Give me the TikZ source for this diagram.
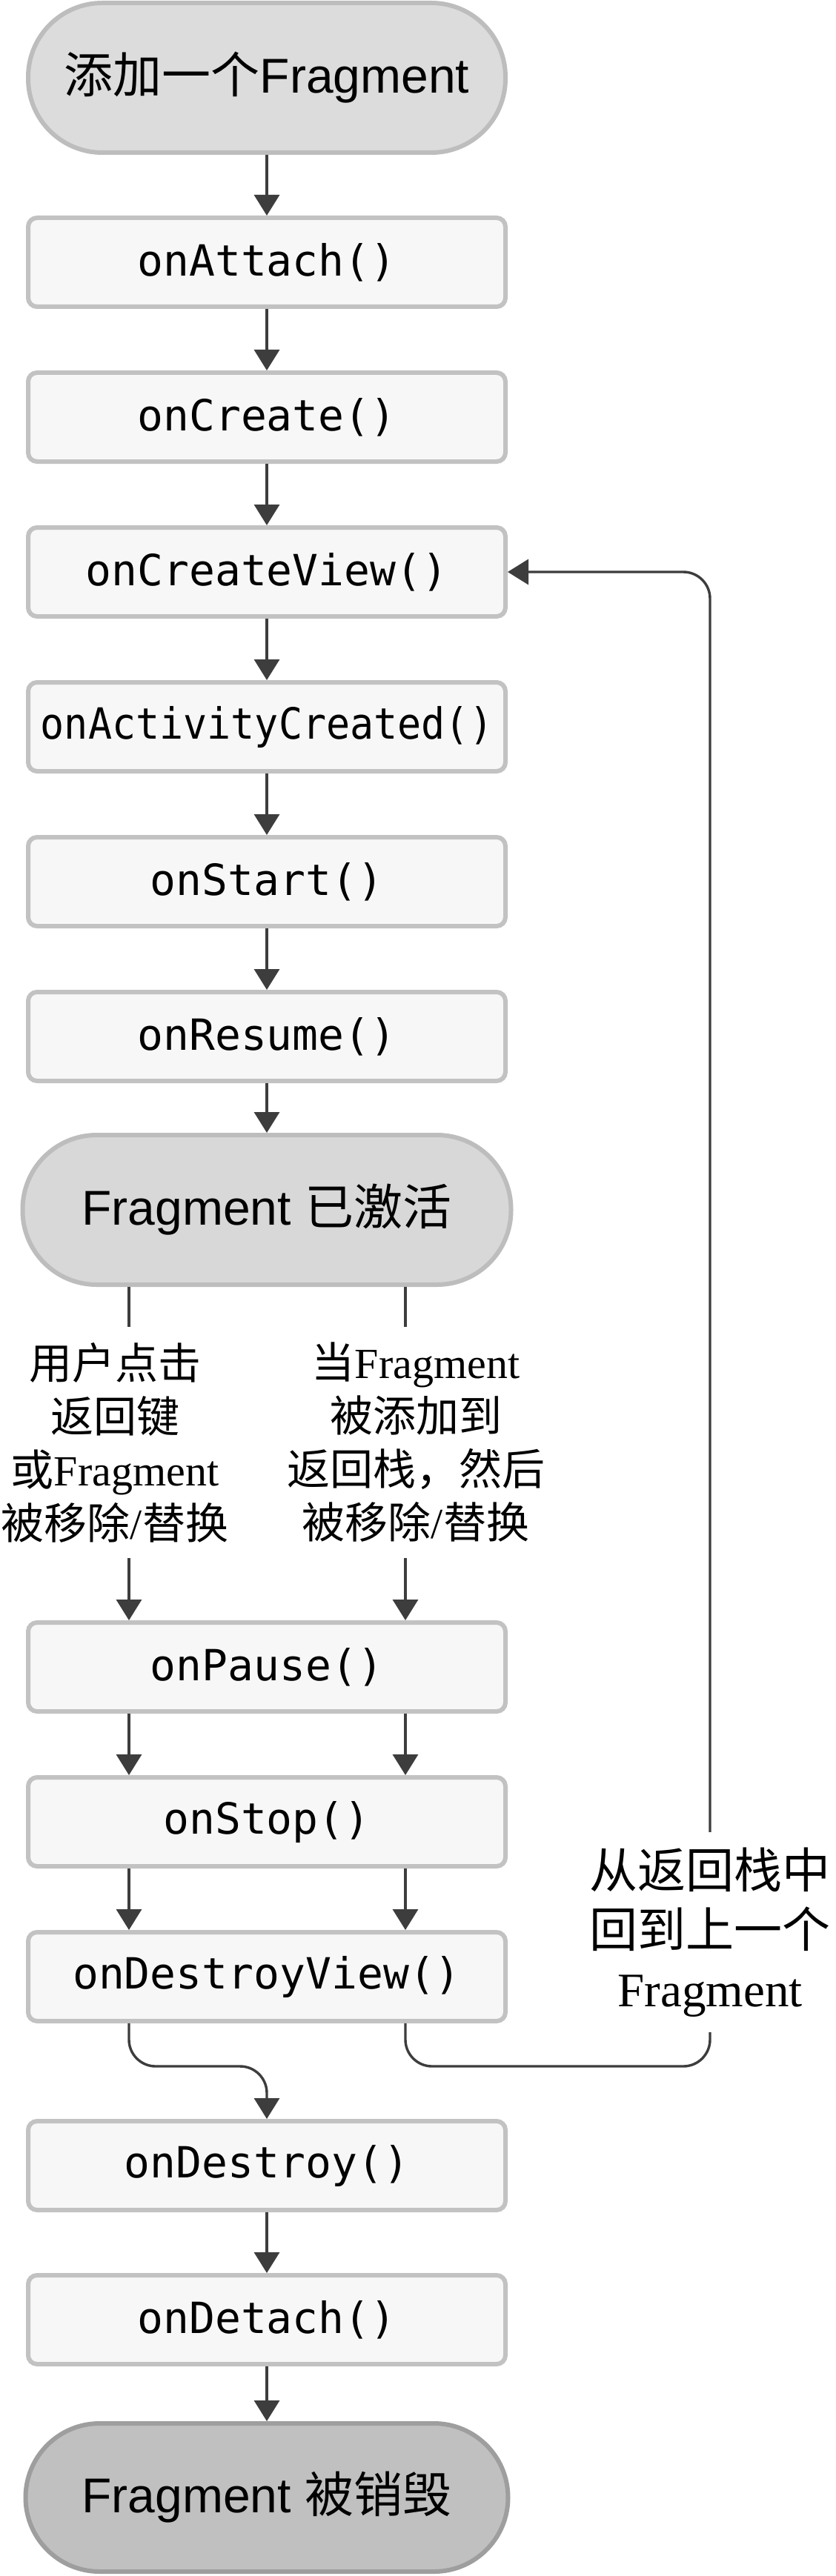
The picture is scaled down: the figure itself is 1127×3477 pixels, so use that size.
\documentclass[tikz,border=0pt]{standalone}
\usepackage{fontspec}
\usepackage{tikz}
\usepackage{graphicx}
\usepackage{xcolor}
\usetikzlibrary{arrows.meta,positioning,calc}
\setmainfont{Liberation Serif}
\setsansfont{Liberation Sans}
\setmonofont{DejaVu Sans Mono}
\newfontfamily\zhfont{Noto Sans CJK SC}
\newcommand{\zh}[1]{{\zhfont #1}}
\definecolor{boxfill}{HTML}{F7F7F7}
\definecolor{boxline}{HTML}{C2C2C2}
\definecolor{startfill}{HTML}{DCDCDC}
\definecolor{startline}{HTML}{BDBDBD}
\definecolor{endfill}{HTML}{C0C0C0}
\definecolor{endline}{HTML}{9E9E9E}
\definecolor{linkcol}{HTML}{3D3D3D}

\begin{document}
\begin{tikzpicture}[x=0.25pt, y=-0.25pt,
    call/.style={draw=boxline, fill=boxfill, line width=1.5pt, rounded corners=3pt,
        minimum width=161pt, minimum height=30pt, inner sep=0pt,
        font=\ttfamily\fontsize{14.5}{17}\selectfont},
    state/.style={line width=1.5pt, rounded corners=25pt, minimum height=50.5pt,
        font=\sffamily\fontsize{16.5}{20}\selectfont},
    why/.style={align=center, inner sep=5pt, font=\fontsize{14.5}{18}\selectfont},
    link/.style={draw=linkcol, line width=0.85pt},
    flow/.style={link, -{Triangle[length=7pt,width=8.5pt]}}]
    \useasboundingbox[fill=white] (0,0) rectangle (1127,3477);

    % States
    \node[state, draw=startline, fill=startfill, minimum width=161pt] (add) at (360,105) {\zh{添加一个}Fragment};
    \node[state, draw=startline, fill=startfill!98!black, minimum width=164.75pt] (active) at (360,1633) {Fragment \zh{已激活}};
    \node[state, draw=endline, fill=endfill, minimum width=162.75pt, minimum height=50pt] (gone) at (360,3371) {Fragment \zh{被销毁}};

    % Callbacks
    \node[call] (attach) at (360,354) {onAttach()};
    \node[call] (create) at (360,563) {onCreate()};
    \node[call] (cview) at (360,772) {onCreateView()};
    \node[call] (acreated) at (360,981) {\scalebox{0.92}[1]{onActivityCreated()}};
    \node[call] (start) at (360,1190) {onStart()};
    \node[call] (resume) at (360,1399) {onResume()};
    \node[call] (pause) at (360,2250) {onPause()};
    \node[call] (stop) at (360,2459) {onStop()};
    \node[call] (dview) at (360,2668) {onDestroyView()};
    \node[call] (destroy) at (360,2923) {onDestroy()};
    \node[call] (detach) at (360,3131) {onDetach()};

    % Reasons
    \node[why] (byuser) at (155,1947) {\zh{用户点击}\\\zh{返回键}\\\zh{或}Fragment\\\zh{被移除}/\zh{替换}};
    \node[why] (bystack) at (561,1947) {\zh{当}Fragment\\\zh{被添加到}\\\zh{返回栈，然后}\\\zh{被移除}/\zh{替换}};
    \node[why, font=\fontsize{16.25}{20}\selectfont] (back) at (958,2608) {\zh{从返回栈中}\\\zh{回到上一个}\\Fragment};

    \coordinate (cl) at (174,0);
    \coordinate (cr) at (547,0);
    \coordinate (bend) at (0,2789);

    % Main column
    \foreach \a/\b in {add/attach, attach/create, create/cview, cview/acreated,
        acreated/start, start/resume, resume/active, destroy/detach, detach/gone}
        \draw[flow] (\a.south) -- (\b.north);

    % Two ways out
    \foreach \c/\r in {cl/byuser, cr/bystack} {
        \draw[link] (active.south -| \c) -- (\r.north -| \c);
        \draw[flow] (\r.south -| \c) -- (pause.north -| \c);
        \draw[flow] (pause.south -| \c) -- (stop.north -| \c);
        \draw[flow] (stop.south -| \c) -- (dview.north -| \c);
    }

    % Destroyed or back from the back stack
    \draw[flow, rounded corners=9pt] (dview.south -| cl) |- (bend -| destroy) -- (destroy.north);
    \draw[link, rounded corners=9pt] (dview.south -| cr) |- (bend -| back) -- (back.south);
    \draw[flow, rounded corners=9pt] (back.north) |- (cview.east);
\end{tikzpicture}
\end{document}
